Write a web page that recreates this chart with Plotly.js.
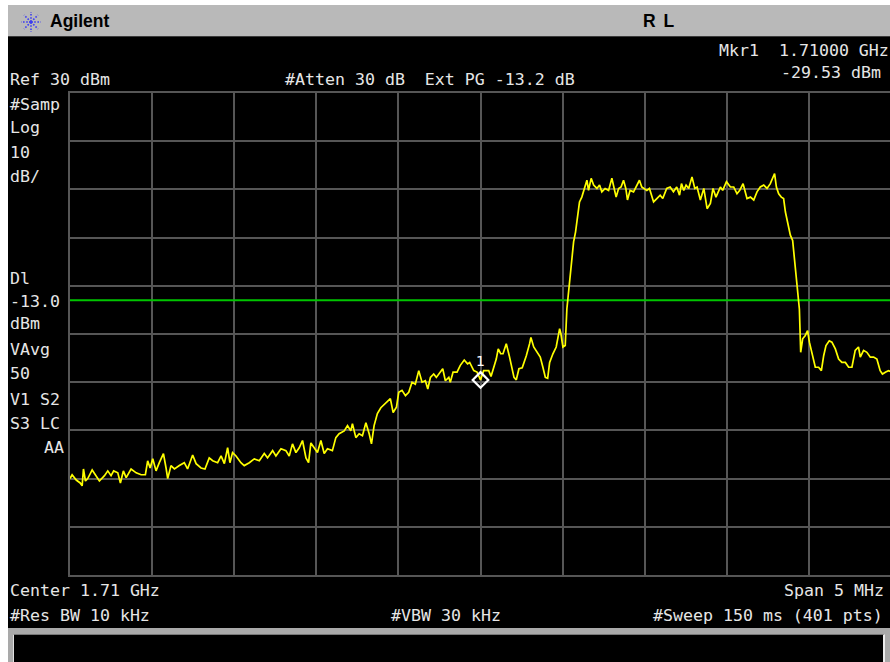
<!DOCTYPE html>
<html><head><meta charset="utf-8">
<script src="https://cdn.plot.ly/plotly-3.0.1.min.js"></script>
<style>
html,body{margin:0;padding:0;background:#fff;width:890px;height:662px;overflow:hidden;}
#hdr{position:absolute;left:8px;top:5px;width:882px;height:32px;background:#b9b9b9;border-bottom:1px solid #3a3a3a;box-sizing:border-box;}
#chart{position:absolute;left:8px;top:37px;width:884px;height:591px;}
#foot{position:absolute;left:8px;top:628px;width:882px;height:34px;background:#a9a9a9;}
#msg{position:absolute;left:5px;top:6px;width:872px;height:30px;background:#000;border-left:1px solid #e0e0e0;border-right:2px solid #ececec;border-top:1px solid #777;box-sizing:border-box;}
.hdtxt{position:absolute;font-family:"Liberation Sans",Arial,sans-serif;font-weight:bold;color:#000;font-size:17.5px;line-height:20px;white-space:pre;}
</style></head>
<body>
<div id="hdr">
 <svg style="position:absolute;left:11px;top:6px" width="24" height="22" viewBox="0 0 24 22">
  <g stroke="#3b3bf2" stroke-width="1.6" stroke-dasharray="1.6 1.6" fill="none">
   <line x1="12" y1="11" x2="12" y2="1"/><line x1="12" y1="11" x2="12" y2="21"/>
   <line x1="12" y1="11" x2="2" y2="11"/><line x1="12" y1="11" x2="22" y2="11"/>
   <line x1="12" y1="11" x2="5" y2="4"/><line x1="12" y1="11" x2="19" y2="18"/>
   <line x1="12" y1="11" x2="19" y2="4"/><line x1="12" y1="11" x2="5" y2="18"/>
  </g>
  <circle cx="12" cy="11" r="1.6" fill="#3b3bf2"/>
 </svg>
 <div class="hdtxt" style="left:42px;top:6px">Agilent</div>
 <div class="hdtxt" style="left:635px;top:6px;letter-spacing:1.5px">R L</div>
</div>
<div id="chart"></div>
<div id="foot"><div id="msg"></div></div>
<script>
// ---- instrument settings ----
const centerGHz = 1.71;
const spanMHz = 5;
const refLevelDbm = 30;
const dbPerDiv = 10;
const numDivs = 10;
const displayLineDbm = -13.0;
const markerFreqOffsetMHz = 0.0;
const markerLevelDbm = -29.53;
const markerLabel = '1';

// ---- trace (frequency offset from center, MHz) ----
const freqOffsetMHz = [
 -2.500,-2.487,-2.462,-2.438,-2.426,-2.418,-2.406,-2.392,-2.365,-2.341,
 -2.321,-2.290,-2.270,-2.250,-2.234,-2.209,-2.193,-2.175,-2.158,-2.128,
 -2.097,-2.067,-2.041,-2.027,-2.012,-1.996,-1.976,-1.956,-1.931,-1.915,
 -1.905,-1.885,-1.864,-1.834,-1.804,-1.784,-1.753,-1.732,-1.702,-1.678,
 -1.652,-1.631,-1.601,-1.580,-1.560,-1.540,-1.526,-1.510,-1.489,-1.459,
 -1.439,-1.408,-1.378,-1.347,-1.317,-1.297,-1.266,-1.246,-1.215,-1.185,
 -1.165,-1.145,-1.124,-1.104,-1.084,-1.063,-1.047,-1.033,-1.013,-0.993,
 -0.972,-0.952,-0.932,-0.902,-0.881,-0.861,-0.830,-0.810,-0.790,-0.780,
 -0.759,-0.739,-0.719,-0.698,-0.678,-0.664,-0.648,-0.628,-0.607,-0.587,
 -0.569,-0.549,-0.532,-0.512,-0.498,-0.478,-0.457,-0.437,-0.417,-0.397,
 -0.376,-0.356,-0.336,-0.321,-0.305,-0.285,-0.269,-0.245,-0.230,-0.214,
 -0.193,-0.184,-0.167,-0.143,-0.123,-0.099,-0.079,-0.066,-0.041,-0.021,
 0.000,0.019,0.050,0.064,0.080,0.096,0.108,0.123,0.137,0.157,
 0.175,0.192,0.204,0.218,0.234,0.254,0.279,0.299,0.307,0.324,
 0.344,0.364,0.380,0.395,0.409,0.421,0.441,0.461,0.482,0.490,
 0.502,0.516,0.526,0.537,0.546,0.557,0.567,0.579,0.591,0.603,
 0.617,0.631,0.648,0.658,0.674,0.689,0.709,0.725,0.739,0.759,
 0.780,0.800,0.814,0.826,0.841,0.856,0.871,0.885,0.895,0.911,
 0.932,0.948,0.968,0.982,0.996,1.013,1.029,1.054,1.074,1.094,
 1.110,1.134,1.155,1.175,1.195,1.212,1.224,1.238,1.252,1.268,
 1.288,1.305,1.319,1.339,1.360,1.380,1.400,1.416,1.434,1.461,
 1.475,1.498,1.522,1.542,1.562,1.579,1.599,1.623,1.644,1.664,
 1.684,1.704,1.725,1.745,1.765,1.779,1.791,1.802,1.816,1.832,
 1.846,1.857,1.871,1.887,1.901,1.913,1.923,1.933,1.942,1.950,
 1.962,1.978,1.992,2.003,2.015,2.029,2.039,2.059,2.076,2.090,
 2.104,2.124,2.140,2.161,2.181,2.201,2.222,2.242,2.262,2.282,
 2.302,2.313,2.333,2.353,2.374,2.394,2.414,2.434,2.448,2.468,
 2.485,2.500
];
const levelDbm = [
 -50.0,-49.2,-50.3,-50.9,-51.5,-48.0,-50.5,-50.0,-48.2,-49.4,
 -50.5,-49.4,-48.4,-49.4,-48.4,-48.8,-50.9,-48.4,-49.8,-48.0,
 -48.8,-49.2,-49.2,-46.3,-47.8,-45.9,-48.4,-46.7,-44.8,-47.8,
 -50.0,-47.3,-48.0,-47.3,-46.7,-48.0,-45.1,-46.9,-47.8,-48.0,
 -45.7,-46.3,-46.7,-45.3,-46.9,-43.6,-46.7,-44.6,-45.3,-46.7,
 -47.3,-46.7,-45.9,-46.3,-44.8,-45.7,-44.2,-45.3,-43.8,-44.2,
 -45.3,-42.8,-44.6,-43.6,-42.1,-45.7,-46.7,-42.6,-43.6,-44.6,
 -42.1,-44.8,-43.8,-44.2,-41.5,-40.7,-40.1,-39.0,-40.1,-38.6,
 -41.5,-40.7,-41.1,-38.4,-40.7,-42.8,-39.0,-36.5,-35.3,-34.7,
 -34.2,-33.4,-36.3,-35.2,-32.1,-31.7,-32.8,-32.1,-30.0,-30.4,
 -27.6,-30.0,-29.7,-31.4,-29.0,-28.3,-29.0,-27.9,-27.2,-29.7,
 -29.0,-30.0,-27.9,-27.9,-26.5,-25.4,-26.2,-25.9,-27.6,-27.9,
 -29.53,-27.6,-27.6,-28.8,-27.2,-25.2,-23.1,-24.1,-24.1,-22.0,
 -24.5,-27.6,-29.0,-29.5,-27.2,-27.0,-24.5,-22.0,-20.7,-22.7,
 -23.8,-24.8,-26.9,-29.0,-29.2,-25.9,-24.1,-22.7,-18.9,-20.0,
 -22.7,-22.4,-14.8,-11.3,-7.8,-3.7,-0.9,1.2,4.0,7.4,
 8.4,9.8,11.9,9.8,12.3,10.9,10.2,10.9,9.5,10.2,
 9.8,12.3,10.2,8.4,10.2,10.5,11.9,10.2,7.8,9.8,
 9.5,10.5,11.9,10.5,10.2,9.8,10.2,7.4,8.1,8.8,
 8.1,10.2,10.5,9.5,10.5,8.8,11.2,9.8,10.9,10.2,
 12.6,10.2,10.5,7.8,10.2,6.0,7.1,10.2,8.4,10.5,
 9.8,11.6,10.5,10.5,9.1,9.8,11.2,8.1,8.4,7.8,
 9.5,10.5,10.9,10.2,11.2,12.3,13.3,10.5,9.1,8.4,
 8.1,5.3,2.9,0.5,-0.6,-5.1,-9.2,-12.7,-14.8,-23.8,
 -21.0,-20.3,-19.3,-21.7,-23.4,-25.2,-26.9,-26.9,-27.6,-24.5,
 -22.4,-21.4,-21.7,-23.1,-25.2,-25.9,-25.9,-26.9,-26.9,-23.4,
 -22.7,-24.8,-23.4,-23.8,-24.8,-24.8,-25.2,-27.6,-28.3,-27.9,
 -27.6,-27.8
];

// ---- screen texts ----
const topTexts = ['Ref 30 dBm', '#Atten 30 dB\u00a0 Ext PG -13.2 dB'];
const markerTexts = ['Mkr1\u00a0 1.71000 GHz', '-29.53 dBm'];
const sideTexts = ['#Samp','Log','10','dB/','Dl','-13.0','dBm','VAvg','50','V1 S2','S3 LC'];
const bottomTexts = ['Center 1.71 GHz','Span 5 MHz','#Res BW 10 kHz','#VBW 30 kHz','#Sweep 150 ms (401 pts)'];

// ---- geometry ----
const W = 884, H = 591, ML = 62, MR = 1, MT = 56, MB = 53;
const PW = W - ML - MR, PH = H - MT - MB;
const OX = 8, OY = 37;
const fx = x => (x - OX - ML) / PW;
const fy = y => 1 - (y - OY - MT) / PH;
const FONT = {family: 'DejaVu Sans Mono, monospace', size: 16.6, color: '#e6e6e6'};
function txt(t, x, y, xa) {
  return {text: t, xref: 'paper', yref: 'paper', x: fx(x), y: fy(y), xanchor: xa || 'left',
          yanchor: 'middle', showarrow: false, borderpad: 0, font: FONT};
}
const sideY = [104, 128, 152, 176, 279, 301, 323, 349, 373, 399, 423];
const annotations = [
  txt(topTexts[0], 9, 79), txt(topTexts[1], 284, 79),
  txt(markerTexts[0], 890, 50, 'right'), txt(markerTexts[1], 882, 73, 'right'),
  txt(bottomTexts[0], 9, 590), txt(bottomTexts[1], 885, 590, 'right'),
  txt(bottomTexts[2], 9, 615), txt(bottomTexts[3], 390, 615), txt(bottomTexts[4], 884, 615, 'right'),
  txt('AA', 65, 447, 'right')
];
sideTexts.forEach((s, i) => annotations.push(txt(s, 9, sideY[i])));
annotations.push({x: markerFreqOffsetMHz, y: markerLevelDbm, xref: 'x', yref: 'y', text: markerLabel,
  showarrow: false, yanchor: 'bottom', xanchor: 'center', yshift: 10, borderpad: 0,
  font: {family: 'DejaVu Sans', size: 14, color: '#ffffff'}});

const half = spanMHz / 2;
const traces = [
  {x: [-half, half], y: [displayLineDbm, displayLineDbm], mode: 'lines',
   line: {color: '#00c400', width: 2}, hoverinfo: 'skip'},
  {x: freqOffsetMHz, y: levelDbm, mode: 'lines',
   line: {color: '#ffff00', width: 1.7}, hoverinfo: 'skip'},
  {x: [markerFreqOffsetMHz], y: [markerLevelDbm], mode: 'markers',
   marker: {symbol: 'diamond-open', size: 12, color: '#ffffff', line: {color: '#ffffff', width: 2.2}}, hoverinfo: 'skip'}
];
const gridC = '#565656';
const axisCommon = {showgrid: true, gridcolor: gridC, gridwidth: 2, zeroline: false,
  showline: true, mirror: true, linecolor: gridC, linewidth: 2, showticklabels: false, ticks: '', fixedrange: true};
const layout = {
  width: W, height: H, margin: {l: ML, r: MR, t: MT, b: MB, pad: 0},
  paper_bgcolor: '#000', plot_bgcolor: '#000', showlegend: false,
  xaxis: Object.assign({range: [-half, half], tick0: -half, dtick: spanMHz / numDivs}, axisCommon),
  yaxis: Object.assign({range: [refLevelDbm - dbPerDiv * numDivs, refLevelDbm], tick0: refLevelDbm, dtick: dbPerDiv}, axisCommon),
  annotations: annotations
};
Plotly.newPlot('chart', traces, layout, {staticPlot: true, displayModeBar: false});
</script>
</body></html>
